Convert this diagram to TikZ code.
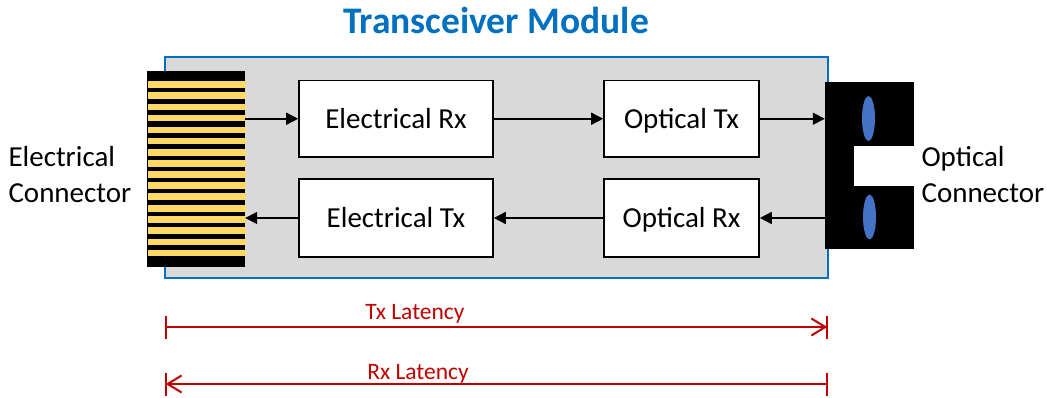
\documentclass[tikz,border=0pt]{standalone}
\usepackage{fontspec}
\setmainfont{Carlito}
\usetikzlibrary{arrows.meta,shapes.geometric}
\definecolor{modblue}{HTML}{0070C0}
\definecolor{modgray}{HTML}{D9D9D9}
\definecolor{lensblue}{HTML}{4472C4}
\definecolor{pinyellow}{HTML}{FFD966}
\definecolor{latred}{HTML}{C00000}

\begin{document}
\begin{tikzpicture}[x=1pt, y=-1pt, >={Triangle[length=12pt,width=12pt]},
    blockbox/.style={draw=black, fill=white, line width=1.6pt, inner sep=0pt, text height=21pt, text depth=2pt, font=\fontsize{29}{34}\selectfont},
    sidetext/.style={align=left, anchor=west, font=\fontsize{29}{36}\selectfont},
    latline/.style={latred, line width=2pt},
    lattext/.style={text=latred, font=\fontsize{23.5}{28}\selectfont, inner sep=0pt}]
  \useasboundingbox (0,0) rectangle (1047,398);

  % Title and module body
  \node[text=modblue, font=\fontsize{37.5}{42}\selectfont\bfseries] (Title) at (496,20) {Transceiver Module};
  \node[draw=modblue, fill=modgray, line width=2pt, minimum width=663pt, minimum height=220pt, inner sep=0pt] (Module) at (496.7,167.5) {};

  % Left: Electrical connector
  \node[fill=black, minimum width=98.5pt, minimum height=196pt, inner sep=0pt] (ElecConn) at (195.75,169) {};
  \foreach \y in {81.7,92.7,104,115,127.3,138.3,149.7,160.7,171.7,182.7,193.7,205.7,216.7,227.7,239,250}
    \fill[pinyellow] (148,\y-0.2) rectangle (245.5,\y+6.2);

  % Right: Optical connector
  \node[fill=black, minimum width=89pt, minimum height=167pt, inner sep=0pt] (OptConn) at (869.5,165.5) {};
  \node[fill=white, minimum width=60pt, minimum height=40pt, inner sep=0pt] (OptSlot) at (884,166) {};
  \node[ellipse, fill=lensblue, minimum width=13pt, minimum height=45pt, inner sep=0pt] (LensTop) at (868.5,118.5) {};
  \node[ellipse, fill=lensblue, minimum width=13pt, minimum height=45pt, inner sep=0pt] (LensBot) at (869.5,217) {};

  % Blocks
  \node[blockbox, minimum width=194pt, minimum height=76.5pt] (ElecRx) at (396,118.75) {Electrical Rx};
  \node[blockbox, minimum width=194pt, minimum height=78pt] (ElecTx) at (396,218) {Electrical Tx};
  \node[blockbox, minimum width=155pt, minimum height=76.5pt] (OptTx) at (681.5,118.75) {Optical Tx};
  \node[blockbox, minimum width=155pt, minimum height=78pt] (OptRx) at (681.5,218) {Optical Rx};

  % Signal paths
  \draw[->, line width=1.6pt] (ElecConn.east |- ElecRx.west) -- (ElecRx.west);
  \draw[->, line width=1.6pt] (ElecRx.east) -- (OptTx.west);
  \draw[->, line width=1.6pt] (OptTx.east) -- (OptConn.west |- OptTx.east);
  \draw[->, line width=1.6pt] (OptConn.west |- OptRx.east) -- (OptRx.east);
  \draw[->, line width=1.6pt] (OptRx.west) -- (ElecTx.east);
  \draw[->, line width=1.6pt] (ElecTx.west) -- (ElecConn.east |- ElecTx.west);

  % Side labels
  \node[sidetext] (ElecLabel) at (5,175) {Electrical\\Connector};
  \node[sidetext] (OptLabel) at (918,175) {Optical\\Connector};

  % Latency spans
  \coordinate (TxStart) at (165.7,327);
  \coordinate (TxEnd) at (827.3,327);
  \coordinate (RxStart) at (165.7,384);
  \coordinate (RxEnd) at (827.3,384);
  \draw[latline, -{Straight Barb[length=14pt,width=17pt]}] (TxStart) -- (TxEnd);
  \draw[latline, -{Straight Barb[length=14pt,width=17pt]}] (RxEnd) -- (RxStart);
  \draw[latline] (TxStart) ++(0,-11.5) -- ++(0,23);
  \draw[latline] (TxEnd) ++(0,-11.5) -- ++(0,23);
  \draw[latline] (RxStart) ++(0,-11.5) -- ++(0,23);
  \draw[latline] (RxEnd) ++(0,-11.5) -- ++(0,23);
  \node[lattext] (TxLabel) at (415,314) {Tx Latency};
  \node[lattext] (RxLabel) at (418,374) {Rx Latency};
\end{tikzpicture}
\end{document}
